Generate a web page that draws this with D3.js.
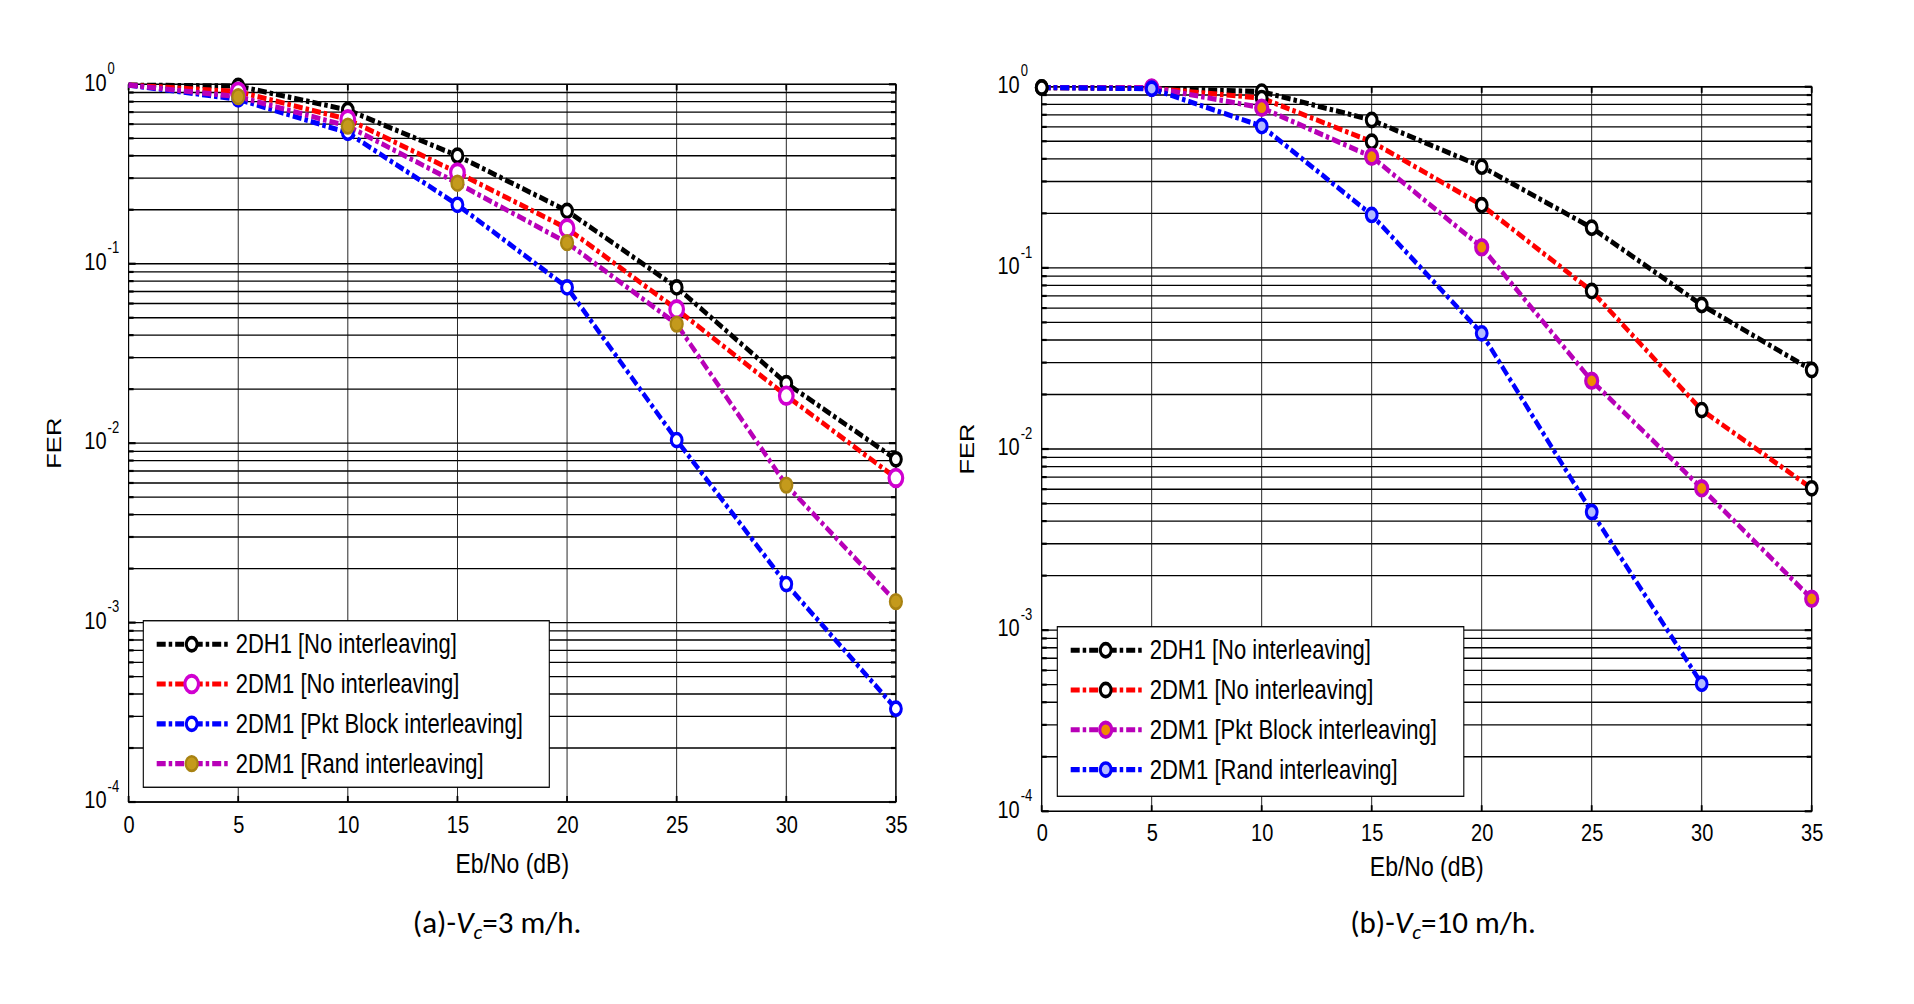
<!DOCTYPE html>
<html>
<head>
<meta charset="utf-8">
<script src="https://cdn.jsdelivr.net/npm/d3@7"></script>
<style>
  body { margin: 0; background: #fff; }
  svg { display: block; }
</style>
</head>
<body>
<div id="chart"></div>
<script>
// Eb/No values (dB) shared by both panels
const ebno = [0, 5, 10, 15, 20, 25, 30, 35];

// panel (a) Vc = 3 m/h, FER
const a2DH1 = [0.99, 0.978, 0.719, 0.40, 0.197, 0.0738, 0.0216, 0.00813];
const a2DM1NoInt = [0.99, 0.91, 0.638, 0.322, 0.1575, 0.0557, 0.0184, 0.0064];
const a2DM1Pkt = [0.99, 0.825, 0.537, 0.213, 0.0738, 0.0104, 0.00164, 0.000331];
const a2DM1Rand = [0.99, 0.853, 0.585, 0.281, 0.131, 0.0461, 0.00584, 0.00131];

// panel (b) Vc = 10 m/h, FER
const b2DH1 = [0.99, 0.98, 0.94, 0.655, 0.362, 0.1666, 0.0624, 0.0273];
const b2DM1NoInt = [0.99, 0.98, 0.866, 0.497, 0.222, 0.0745, 0.0164, 0.00607];
const b2DM1Pkt = [0.99, 0.99, 0.766, 0.411, 0.13, 0.0238, 0.00607, 0.00149];
const b2DM1Rand = [0.99, 0.975, 0.606, 0.196, 0.0435, 0.00449, 0.000506];

const legendLabels = [
  '2DH1 [No interleaving]',
  '2DM1 [No interleaving]',
  '2DM1 [Pkt Block interleaving]',
  '2DM1 [Rand interleaving]',
];
const legendLabelsB = [
  '2DH1 [No interleaving]',
  '2DM1 [No interleaving]',
  '2DM1 [Pkt Block interleaving]',
  '2DM1 [Rand interleaving]',
];

// the original figure is stretched vertically, so the plots are drawn in a squeezed frame
const sy = 1.22;
const font = '"Liberation Sans", Arial, sans-serif';
const dash = '9,3,3.5,3';
const lineWidth = 4.2;

const svg = d3.select('#chart').append('svg')
  .attr('width', 1914)
  .attr('height', 1004);

const stretched = svg.append('g').attr('transform', `scale(1,${sy})`);

const panels = [
  {
    frame: { left: 128.6, right: 895.9, top: 69.1, bottom: 657.4 },
    legend: { x: 143.3, y: 508.8, w: 406, h: 136.5, labels: legendLabels },
    tickGap: 25.6,
    labelGap: 58,
    caption: { x: 497, y: 933, tag: '(a)-', rest: '=3 m/h.' },
    series: [
      { values: a2DH1, line: '#000', stroke: '#000', fill: '#fff', r: 5.4, sw: 3, from: 1 },
      { values: a2DM1NoInt, line: '#ff0000', stroke: '#d000d0', fill: '#fff', r: 6.8, sw: 3.2, from: 1 },
      { values: a2DM1Pkt, line: '#0000ff', stroke: '#0000ff', fill: '#fff', r: 5.4, sw: 3, from: 1 },
      { values: a2DM1Rand, line: '#b800b8', stroke: '#a88212', fill: '#c49a1c', r: 6, sw: 2.2, from: 1 },
    ],
  },
  {
    frame: { left: 1041.7, right: 1811.7, top: 71.1, bottom: 665.0 },
    legend: { x: 1057.3, y: 513.7, w: 406.5, h: 139, labels: legendLabelsB },
    tickGap: 24.5,
    labelGap: 53,
    caption: { x: 1443, y: 933, tag: '(b)-', rest: '=10 m/h.' },
    series: [
      { values: b2DH1, line: '#000', stroke: '#000', fill: '#fff', r: 5.4, sw: 3, from: 0 },
      { values: b2DM1NoInt, line: '#ff0000', stroke: '#000', fill: '#fff', r: 5.4, sw: 3, from: 0 },
      { values: b2DM1Pkt, line: '#b800b8', stroke: '#c000c0', fill: '#f08c00', r: 6, sw: 3.2, from: 1 },
      { values: b2DM1Rand, line: '#0000ff', stroke: '#0000ff', fill: '#b4bcff', r: 5.4, sw: 3, from: 1 },
    ],
  },
];

const drawMarker = (sel, s) => sel
  .attr('r', s.r)
  .attr('fill', s.fill)
  .attr('stroke', s.stroke)
  .attr('stroke-width', s.sw);

const drawPanel = (p) => {
  const f = p.frame;
  const x = d3.scaleLinear().domain([0, 35]).range([f.left, f.right]);
  const y = d3.scaleLog().domain([1e-4, 1]).range([f.bottom, f.top]);
  const g = stretched.append('g');

  const yTicks = y.ticks();
  const decades = yTicks.filter((v) => Math.abs(Math.log10(v) - Math.round(Math.log10(v))) < 1e-9);
  const xTicks = x.ticks(7);

  // grid
  g.append('g').selectAll('line')
    .data(yTicks)
    .enter()
    .append('line')
    .attr('x1', f.left)
    .attr('x2', f.right)
    .attr('y1', (d) => y(d))
    .attr('y2', (d) => y(d))
    .attr('stroke', '#000')
    .attr('stroke-width', 1.1);

  g.append('g').selectAll('line')
    .data(xTicks)
    .enter()
    .append('line')
    .attr('x1', (d) => x(d))
    .attr('x2', (d) => x(d))
    .attr('y1', f.top)
    .attr('y2', f.bottom)
    .attr('stroke', '#111')
    .attr('stroke-width', 0.9);

  // small inside ticks on all four sides
  const isMajor = (d) => decades.includes(d);
  const ticks = g.append('g').attr('stroke', '#000').attr('stroke-width', 1.8);
  yTicks.forEach((d) => {
    const len = isMajor(d) ? 7 : 5;
    ticks.append('line').attr('x1', f.left).attr('x2', f.left + len)
      .attr('y1', y(d)).attr('y2', y(d));
    ticks.append('line').attr('x1', f.right - len).attr('x2', f.right)
      .attr('y1', y(d)).attr('y2', y(d));
  });
  xTicks.forEach((d) => {
    ticks.append('line').attr('x1', x(d)).attr('x2', x(d))
      .attr('y1', f.top).attr('y2', f.top + 5);
    ticks.append('line').attr('x1', x(d)).attr('x2', x(d))
      .attr('y1', f.bottom - 5).attr('y2', f.bottom);
  });

  g.append('rect')
    .attr('x', f.left)
    .attr('y', f.top)
    .attr('width', f.right - f.left)
    .attr('height', f.bottom - f.top)
    .attr('fill', 'none')
    .attr('stroke', '#000')
    .attr('stroke-width', 1.1);

  // x tick labels
  const xAxis = g.append('g')
    .attr('transform', `translate(0,${f.bottom})`)
    .call(d3.axisBottom(x).tickValues(xTicks).tickSize(0).tickPadding(p.tickGap - 14.2));
  xAxis.select('.domain').remove();
  xAxis.selectAll('text')
    .attr('font-family', font)
    .attr('font-size', 20)
    .attr('fill', '#000');

  // y tick labels 10^k
  const yl = g.append('g').attr('font-family', font).attr('fill', '#000');
  decades.forEach((d) => {
    yl.append('text')
      .attr('x', f.left - 22)
      .attr('y', y(d) + 5.2)
      .attr('text-anchor', 'end')
      .attr('font-size', 20)
      .text('10');
    yl.append('text')
      .attr('x', f.left - 21)
      .attr('y', y(d) - 8.5)
      .attr('font-size', 13)
      .text(Math.round(Math.log10(d)));
  });

  // axis titles
  g.append('text')
    .attr('x', (f.left + f.right) / 2)
    .attr('y', f.bottom + p.labelGap)
    .attr('text-anchor', 'middle')
    .attr('font-family', font)
    .attr('font-size', 23)
    .text('Eb/No (dB)');

  g.append('text')
    .attr('transform', `translate(${f.left - 67.6},${(f.top + f.bottom) / 2}) rotate(-90)`)
    .attr('text-anchor', 'middle')
    .attr('font-family', font)
    .attr('font-size', 21)
    .text('FER');

  // curves and markers
  const line = d3.line()
    .x((d, i) => x(ebno[i]))
    .y((d) => y(d));

  p.series.forEach((s) => {
    g.append('path')
      .datum(s.values)
      .attr('d', line)
      .attr('fill', 'none')
      .attr('stroke', s.line)
      .attr('stroke-width', lineWidth)
      .attr('stroke-dasharray', dash);
  });
  p.series.forEach((s) => {
    g.append('g').selectAll('circle')
      .data(s.values.map((v, i) => [ebno[i], v]).slice(s.from))
      .enter()
      .append('circle')
      .attr('cx', (d) => x(d[0]))
      .attr('cy', (d) => y(d[1]))
      .call(drawMarker, s);
  });

  // legend
  const L = p.legend;
  const lg = g.append('g');
  lg.append('rect')
    .attr('x', L.x)
    .attr('y', L.y)
    .attr('width', L.w)
    .attr('height', L.h)
    .attr('fill', '#fff')
    .attr('stroke', '#000')
    .attr('stroke-width', 1.1);
  p.series.forEach((s, i) => {
    const cy = L.y + 19.3 + i * 32.6;
    lg.append('line')
      .attr('x1', L.x + 13.4)
      .attr('x2', L.x + 85)
      .attr('y1', cy)
      .attr('y2', cy)
      .attr('stroke', s.line)
      .attr('stroke-width', lineWidth)
      .attr('stroke-dasharray', dash);
    lg.append('circle')
      .attr('cx', L.x + 48.4)
      .attr('cy', cy)
      .call(drawMarker, s);
    lg.append('text')
      .attr('x', L.x + 92.4)
      .attr('y', cy + 7.4)
      .attr('font-family', font)
      .attr('font-size', 22)
      .text(L.labels[i]);
  });

  // caption, not stretched
  const c = p.caption;
  const cap = svg.append('text')
    .attr('x', c.x)
    .attr('y', c.y)
    .attr('text-anchor', 'middle')
    .attr('font-family', 'Carlito, Calibri, Lato, sans-serif')
    .attr('font-size', 31)
    .attr('fill', '#000');
  cap.append('tspan').text(c.tag);
  cap.append('tspan').attr('font-style', 'italic').text('V');
  cap.append('tspan').attr('font-style', 'italic').attr('font-size', 21)
    .attr('dy', 6).text('c');
  cap.append('tspan').attr('dy', -6).text(c.rest);
};

panels.forEach(drawPanel);
</script>
</body>
</html>
